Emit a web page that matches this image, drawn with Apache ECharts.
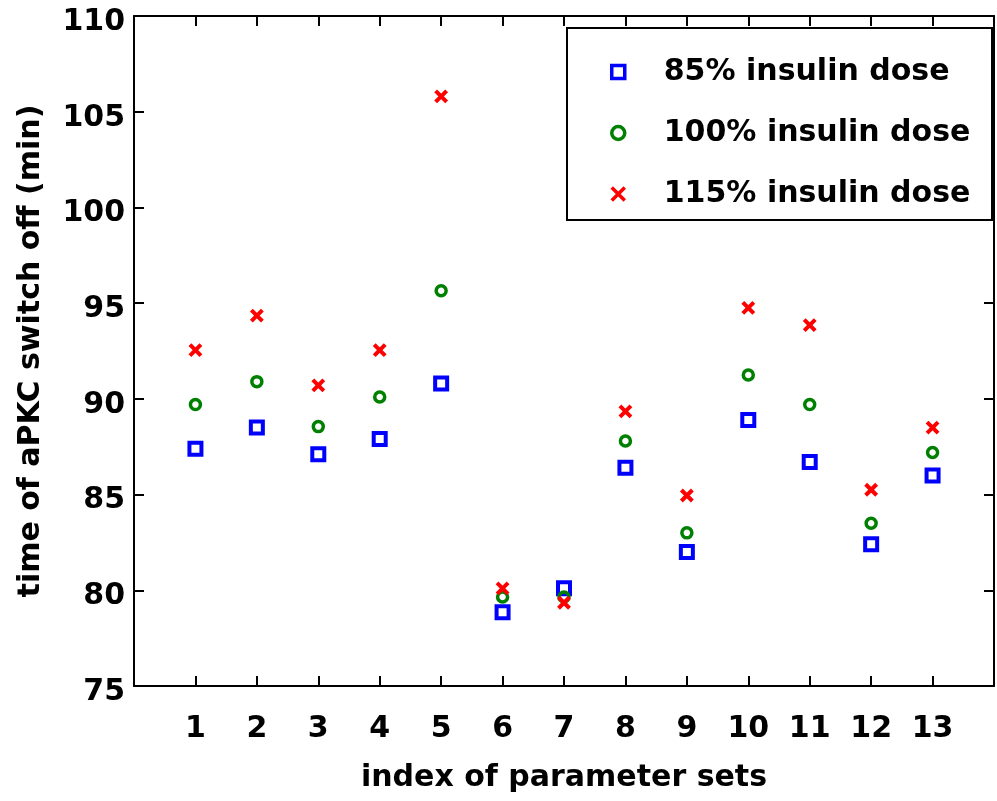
<!DOCTYPE html>
<html>
<head>
<meta charset="utf-8">
<script src="https://cdn.jsdelivr.net/npm/echarts@6/dist/echarts.min.js"></script>
<style>
html,body{margin:0;padding:0;background:#fff;}
#chart{width:997px;height:801px;}
</style>
</head>
<body>
<div id="chart"></div>
<script>
// ---- data ----
const paramSets = [1,2,3,4,5,6,7,8,9,10,11,12,13];
const dose85  = [87.4, 88.5, 87.1, 87.9, 90.8, 78.85, 80.1, 86.4, 82.0, 88.9, 86.7, 82.4, 86.0];
const dose100 = [89.7, 90.9, 88.55, 90.1, 95.65, 79.65, 79.65, 87.8, 83.0, 91.25, 89.7, 83.5, 87.2];
const dose115 = [92.55, 94.35, 90.7, 92.55, 105.8, 80.1, 79.35, 89.35, 84.95, 94.75, 93.85, 85.25, 88.5];
const seriesNames = ['85% insulin dose', '100% insulin dose', '115% insulin dose'];
const xTickLabels = ['1','2','3','4','5','6','7','8','9','10','11','12','13'];
const yTicks = [75, 80, 85, 90, 95, 100, 105, 110];
const xTitle = 'index of parameter sets';
const yTitle = 'time of aPKC switch off (min)';

const FONT = 'DejaVu Sans';
const COLORS = ['#0000ff', '#008000', '#ff0000'];
const CROSS = 'path://M0,0L10,10M0,10L10,0';
function pairs(vals){ return paramSets.map((x,i)=>[x, vals[i]]); }

const chart = echarts.init(document.getElementById('chart'), null, {renderer:'canvas'});

const axisLine = {show:true, onZero:false, lineStyle:{color:'#000', width:2}};
const axisTick = {show:true, inside:true, length:10, lineStyle:{color:'#000', width:2}};
const clear = 'rgba(255,255,255,0)';

const option = {
  backgroundColor:'#fff',
  animation:false,
  grid:{left:134, top:16, width:871, height:670, containLabel:false},
  xAxis:[
    {type:'value', min:0, max:14, interval:1, position:'bottom',
     axisLine, axisTick, splitLine:{show:false},
     axisLabel:{margin:28, color:'#000', fontFamily:FONT, fontWeight:'bold', fontSize:30,
       formatter:v=>{const i=xTickLabels.indexOf(String(v)); return i>=0?xTickLabels[i]:'';}},
     name:xTitle, nameLocation:'middle', nameGap:77,
     nameTextStyle:{color:'#000', fontFamily:FONT, fontWeight:'bold', fontSize:30}},
    {type:'value', min:0, max:14, interval:1, position:'top',
     axisLine, axisTick, splitLine:{show:false}, axisLabel:{show:false}}
  ],
  yAxis:[
    {type:'value', min:yTicks[0], max:yTicks[yTicks.length-1], interval:5, position:'left',
     axisLine, axisTick, splitLine:{show:false},
     axisLabel:{margin:9, color:'#000', fontFamily:FONT, fontWeight:'bold', fontSize:30,
       verticalAlign:'top', lineHeight:12},
     name:yTitle, nameLocation:'middle', nameGap:88,
     nameTextStyle:{color:'#000', fontFamily:FONT, fontWeight:'bold', fontSize:30}},
    {type:'value', min:yTicks[0], max:yTicks[yTicks.length-1], interval:5, position:'right',
     axisLine, axisTick, splitLine:{show:false}, axisLabel:{show:false}}
  ],
  graphic:[
    {type:'rect', shape:{x:567, y:28, width:425, height:192},
     style:{fill:'#fff', stroke:'#000', lineWidth:2}, z:100}
  ],
  legend:{
    show:true, orient:'vertical', left:605, top:52, itemGap:31,
    itemWidth:13, itemHeight:13, z:110,
    textStyle:{color:'#000', fontFamily:FONT, fontWeight:'bold', fontSize:30, lineHeight:30, padding:[0,0,0,34]},
    data:[
      {name:seriesNames[0], icon:'rect', itemStyle:{color:clear, borderColor:COLORS[0], borderWidth:3.5, opacity:1}},
      {name:seriesNames[1], icon:'circle', itemStyle:{color:clear, borderColor:COLORS[1], borderWidth:3.5, opacity:1}},
      {name:seriesNames[2], icon:CROSS, itemStyle:{color:clear, borderColor:COLORS[2], borderWidth:3.5, opacity:1}}
    ]
  },
  series:[
    {name:seriesNames[0], type:'scatter', data:pairs(dose85), symbol:'rect', symbolSize:12,
     itemStyle:{color:clear, borderColor:COLORS[0], borderWidth:4, opacity:1}},
    {name:seriesNames[1], type:'scatter', data:pairs(dose100), symbol:'circle', symbolSize:10,
     itemStyle:{color:clear, borderColor:COLORS[1], borderWidth:3.5, opacity:1}},
    {name:seriesNames[2], type:'scatter', data:pairs(dose115), symbol:CROSS, symbolSize:11,
     itemStyle:{color:clear, borderColor:COLORS[2], borderWidth:4, opacity:1}}
  ]
};
chart.setOption(option);
</script>
</body>
</html>
